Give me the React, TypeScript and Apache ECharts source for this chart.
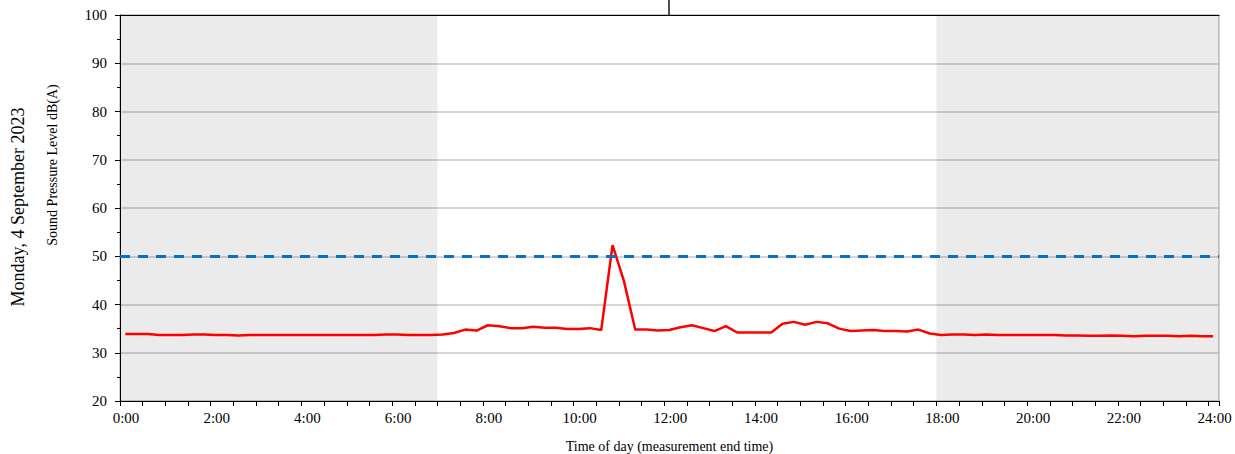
import React, { useEffect, useRef } from "react";
import * as echarts from "echarts";

const dateLabel = "Monday, 4 September 2023";
const yAxisTitle = "Sound Pressure Level dB(A)";
const xAxisTitle = "Time of day (measurement end time)";

const yTicks = [20, 30, 40, 50, 60, 70, 80, 90, 100];
const xTickHours = [0, 2, 4, 6, 8, 10, 12, 14, 16, 18, 20, 22, 24];
const limitLevel = 50;
const noonMarker = 12;
const quietPeriods: [number, number][] = [
  [0, 7],
  [18, 24.23],
];

const times = [
  "0:00", "0:15", "0:30", "0:45", "1:00", "1:15", "1:30", "1:45",
  "2:00", "2:15", "2:30", "2:45", "3:00", "3:15", "3:30", "3:45",
  "4:00", "4:15", "4:30", "4:45", "5:00", "5:15", "5:30", "5:45",
  "6:00", "6:15", "6:30", "6:45", "7:00", "7:15", "7:30", "7:45",
  "8:00", "8:15", "8:30", "8:45", "9:00", "9:15", "9:30", "9:45",
  "10:00", "10:15", "10:30", "10:45", "11:00", "11:15", "11:30", "11:45",
  "12:00", "12:15", "12:30", "12:45", "13:00", "13:15", "13:30", "13:45",
  "14:00", "14:15", "14:30", "14:45", "15:00", "15:15", "15:30", "15:45",
  "16:00", "16:15", "16:30", "16:45", "17:00", "17:15", "17:30", "17:45",
  "18:00", "18:15", "18:30", "18:45", "19:00", "19:15", "19:30", "19:45",
  "20:00", "20:15", "20:30", "20:45", "21:00", "21:15", "21:30", "21:45",
  "22:00", "22:15", "22:30", "22:45", "23:00", "23:15", "23:30", "23:45",
  "24:00",
];

const levels = [
  33.9, 33.9, 33.9, 33.7, 33.7, 33.7, 33.8, 33.8,
  33.7, 33.7, 33.6, 33.7, 33.7, 33.7, 33.7, 33.7,
  33.7, 33.7, 33.7, 33.7, 33.7, 33.7, 33.7, 33.8,
  33.8, 33.7, 33.7, 33.7, 33.8, 34.1, 34.8, 34.6,
  35.7, 35.5, 35.1, 35.1, 35.4, 35.2, 35.2, 34.9,
  34.9, 35.1, 34.7, 52.3, 44.9, 34.8, 34.8, 34.6,
  34.7, 35.3, 35.7, 35.1, 34.5, 35.5, 34.2, 34.2,
  34.2, 34.2, 36.0, 36.4, 35.8, 36.4, 36.1, 35.0,
  34.5, 34.6, 34.7, 34.5, 34.5, 34.4, 34.8, 34.0,
  33.7, 33.8, 33.8, 33.7, 33.8, 33.7, 33.7, 33.7,
  33.7, 33.7, 33.7, 33.6, 33.6, 33.5, 33.5, 33.6,
  33.5, 33.4, 33.5, 33.5, 33.5, 33.4, 33.5, 33.4,
  33.4,
];

const toHours = (s: string) => {
  const [h, m] = s.split(":").map(Number);
  return h + m / 60;
};

const FONT = '"Liberation Serif", "Times New Roman", serif';

export default function App() {
  const ref = useRef<HTMLDivElement>(null);

  useEffect(() => {
    if (!ref.current) return;
    const chart = echarts.init(ref.current, undefined, { renderer: "svg" });
    const seriesData = times.map((t, i) => [toHours(t), levels[i]]);

    chart.setOption({
      animation: false,
      textStyle: { fontFamily: FONT, color: "#000" },
      grid: {
        left: 120,
        right: 16,
        top: 15,
        bottom: 53,
        outerBoundsMode: "none",
        containLabel: false,
        show: true,
        borderColor: "#a0a0a0",
        borderWidth: 1,
        backgroundColor: "transparent",
      },
      xAxis: [
        {
          type: "value",
          position: "bottom",
          min: 0,
          max: 24.23,
          interval: 2,
          z: 1,
          axisLine: { show: true, lineStyle: { color: "#000", width: 1 } },
          axisTick: { show: true, length: 5, lineStyle: { color: "#000" } },
          minorTick: { show: true, splitNumber: 4, length: 5, lineStyle: { color: "#000" } },
          splitLine: { show: false },
          axisLabel: {
            fontFamily: FONT,
            fontSize: 15,
            color: "#000",
            margin: 9,
            padding: [0, 0, 0, 12],
            showMaxLabel: false,
            formatter: (v: number) => (xTickHours.includes(v) ? `${v}:00` : ""),
          },
          name: xAxisTitle,
          nameLocation: "middle",
          nameGap: 38,
          nameTextStyle: { fontFamily: FONT, fontSize: 14, color: "#000" },
        },
        {
          type: "value",
          position: "top",
          min: -0.117,
          max: 24.13,
          z: 1,
          axisLine: { show: true, lineStyle: { color: "#000", width: 1.2 } },
          axisTick: {
            show: true,
            inside: false,
            length: 15,
            customValues: [noonMarker],
            lineStyle: { color: "#222", width: 1.6 },
          },
          axisLabel: { show: false },
          splitLine: { show: false },
        },
      ],
      yAxis: [
        {
          type: "value",
          min: yTicks[0],
          max: yTicks[yTicks.length - 1],
          interval: 10,
          z: 1,
          axisLine: { show: true, lineStyle: { color: "#000", width: 1 } },
          axisTick: { show: true, length: 5, lineStyle: { color: "#000" } },
          minorTick: { show: true, splitNumber: 2, length: 3, lineStyle: { color: "#000" } },
          splitLine: { show: true, lineStyle: { color: "#c8c8c8", width: 1.5 } },
          axisLabel: { fontFamily: FONT, fontSize: 15, color: "#000", margin: 13 },
        },
      ],
      graphic: [
        {
          type: "text",
          x: 18,
          y: 207,
          rotation: Math.PI / 2,
          style: {
            text: dateLabel,
            font: `18px ${FONT}`,
            fill: "#000",
            align: "center",
            verticalAlign: "middle",
            textAlign: "center",
            textVerticalAlign: "middle",
          },
        },
        {
          type: "text",
          x: 52,
          y: 165,
          rotation: Math.PI / 2,
          style: {
            text: yAxisTitle,
            font: `14px ${FONT}`,
            fill: "#000",
            align: "center",
            verticalAlign: "middle",
            textAlign: "center",
            textVerticalAlign: "middle",
          },
        },
      ],
      series: [
        {
          type: "line",
          name: "quiet",
          xAxisIndex: 0,
          yAxisIndex: 0,
          z: 0,
          data: [],
          silent: true,
          markArea: {
            silent: true,
            itemStyle: { color: "rgba(0,0,0,0.078)" },
            data: quietPeriods.map(([a, b]) => [{ xAxis: a }, { xAxis: b }]),
          },
        },
        {
          type: "line",
          name: "limit",
          xAxisIndex: 1,
          yAxisIndex: 0,
          z: 2,
          data: [],
          markLine: {
            silent: true,
            symbol: "none",
            label: { show: false },
            lineStyle: { color: "#0a70c2", width: 3, type: [10, 8] },
            data: [{ yAxis: limitLevel }],
          },
        },
        {
          type: "line",
          name: "level",
          xAxisIndex: 1,
          yAxisIndex: 0,
          z: 3,
          data: seriesData,
          showSymbol: false,
          symbol: "none",
          lineStyle: { color: "#ff0000", width: 2.5 },
        },
      ],
    });

    return () => chart.dispose();
  }, []);

  return (
    <div
      ref={ref}
      style={{ position: "fixed", left: 0, top: 0, width: 1235, height: 454, background: "#fff" }}
    />
  );
}
